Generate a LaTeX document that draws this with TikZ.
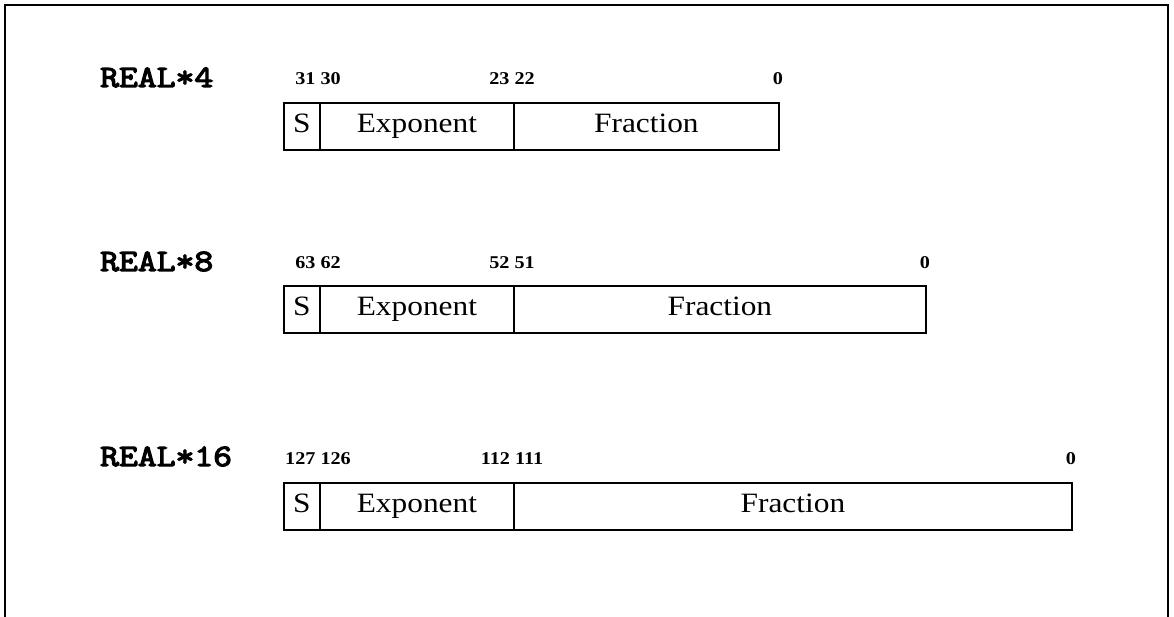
\documentclass[tikz,border=0pt]{standalone}
\usepackage{fontspec}
\setmainfont{Liberation Serif}
\newfontfamily\fieldfont[FakeStretch=1.12]{Liberation Serif}
\newfontfamily\bitfont[FakeStretch=1.12]{Liberation Serif Bold}
\newfontfamily\typefont[FakeBold=4,FakeStretch=1.18]{Latin Modern Mono}
\begin{document}
\begin{tikzpicture}[x=1pt,y=1pt,
  field/.style={draw, line width=1.8pt, minimum height=47pt, inner sep=0pt,
    text height=20pt, text depth=7pt, anchor=north west,
    font=\fieldfont\fontsize{28}{30}\selectfont},
  bitlab/.style={anchor=base, inner sep=0pt, font=\bitfont\fontsize{18}{20}\selectfont},
  typelab/.style={anchor=base west, inner sep=0pt, font=\typefont\fontsize{31}{33}\selectfont}
]
\useasboundingbox (0,0) rectangle (1174,-617);
% outer frame (open at the bottom)
\draw[line width=2.8pt] (5,-640) -- (5,-5) -- (1168,-5) -- (1168,-640);

% ---- REAL*4 ----
\node[typelab] (t4) at (100,-87) {REAL*4};
\node[field, minimum width=36pt] (s4) at (283,-102) {S};
\node[field, minimum width=194pt] (e4) at (319,-102) {Exponent};
\node[field, minimum width=265pt] (f4) at (513,-102) {Fraction};
\node[bitlab] (a4) at (318,-85) {31 30};
\node[bitlab] (b4) at (512,-85) {23 22};
\node[bitlab] (c4) at (778,-85) {0};

% ---- REAL*8 ----
\node[typelab] (t8) at (100,-271) {REAL*8};
\node[field, minimum width=36pt] (s8) at (283,-285) {S};
\node[field, minimum width=194pt] (e8) at (319,-285) {Exponent};
\node[field, minimum width=412pt] (f8) at (513,-285) {Fraction};
\node[bitlab] (a8) at (318,-269) {63 62};
\node[bitlab] (b8) at (512,-269) {52 51};
\node[bitlab] (c8) at (925,-269) {0};

% ---- REAL*16 ----
\node[typelab] (t16) at (100,-466) {REAL*16};
\node[field, minimum width=36pt] (s16) at (283,-482) {S};
\node[field, minimum width=194pt] (e16) at (319,-482) {Exponent};
\node[field, minimum width=558pt] (f16) at (513,-482) {Fraction};
\node[bitlab] (a16) at (318,-464) {127 126};
\node[bitlab] (b16) at (512,-464) {112 111};
\node[bitlab] (c16) at (1071,-464) {0};
\end{tikzpicture}
\end{document}
